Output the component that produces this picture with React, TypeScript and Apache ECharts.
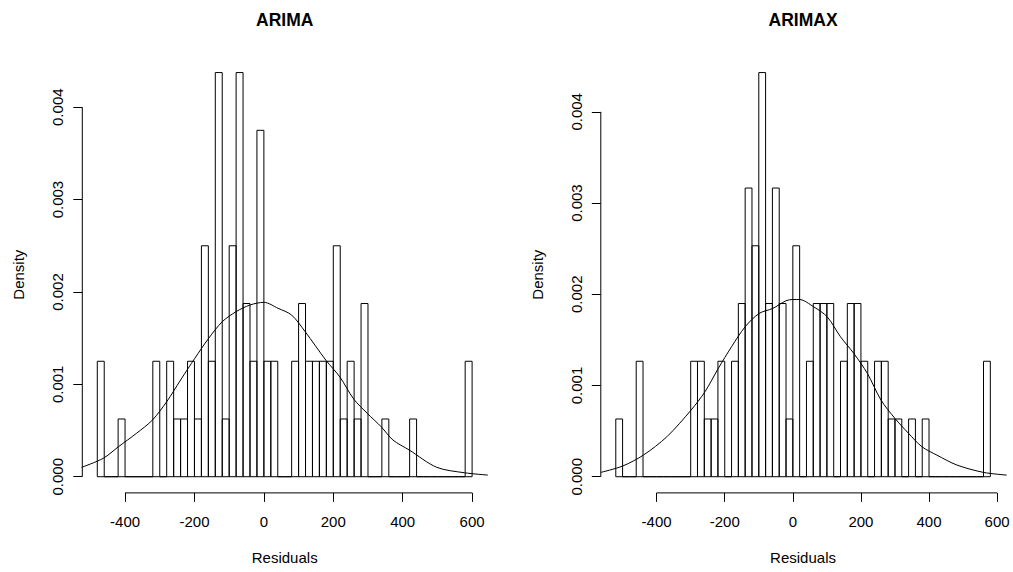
import React, { useEffect, useRef } from "react";
import * as echarts from "echarts";

const FONT = "'Liberation Sans', Arial, Helvetica, sans-serif";

// Axis tick values
const X_TICKS = [-400, -200, 0, 200, 400, 600];
const Y_TICKS = [0, 0.001, 0.002, 0.003, 0.004];

const BIN_WIDTH = 20;

// ARIMA residual histogram: counts per 20-wide bin starting at -480
const ARIMA_BIN_START = -480;
const ARIMA_COUNTS = [
  2, 0, 0, 1, 0, 0, 0, 0, 2, 0, 2, 1, 1, 2, 1, 4, 2, 7, 1, 4, 7, 3, 2, 6, 2, 2, 0,
  0, 2, 3, 2, 2, 2, 2, 4, 1, 2, 1, 3, 0, 0, 1, 0, 0, 0, 1, 0, 0, 0, 0, 0, 0, 0, 2,
];

// ARIMAX residual histogram: counts per 20-wide bin starting at -520
const ARIMAX_BIN_START = -520;
const ARIMAX_COUNTS = [
  1, 0, 0, 2, 0, 0, 0, 0, 0, 0, 0, 2, 2, 1, 1, 2, 0, 2, 3, 5, 4, 7, 3, 5, 3, 1, 4,
  0, 2, 3, 3, 3, 0, 2, 3, 3, 2, 0, 2, 2, 1, 1, 0, 1, 0, 1, 0, 0, 0, 0, 0, 0, 0, 0, 2,
];

// Density curves
const ARIMA_CURVE_X = [
  -525, -463, -419, -367, -321, -280, -240, -199, -159, -120, -80, -40, 0, 41, 80,
  119, 179, 219, 259, 298, 338, 372, 419, 498, 578, 645,
];
const ARIMA_CURVE_Y = [
  0.000102, 0.000199, 0.000325, 0.00047, 0.000614, 0.000812, 0.001047, 0.001282,
  0.001499, 0.001678, 0.001787, 0.001859, 0.001888, 0.001823, 0.00175, 0.00157,
  0.00126, 0.00108, 0.00084, 0.000686, 0.000541, 0.000397, 0.000289, 0.000102,
  0.000043, 0.000018,
];

const ARIMAX_CURVE_X = [
  -564, -500, -439, -370, -299, -258, -219, -180, -140, -99, -59, -20, 0, 19, 61,
  101, 140, 179, 219, 259, 300, 340, 379, 423, 482, 560, 628,
];
const ARIMAX_CURVE_Y = [
  0.0000475, 0.000117, 0.000237, 0.000438, 0.00073, 0.000932, 0.001187, 0.001425,
  0.001644, 0.00179, 0.001845, 0.001929, 0.001943, 0.001943, 0.001863, 0.001753,
  0.001534, 0.001352, 0.001132, 0.00084, 0.000639, 0.000475, 0.000329, 0.000237,
  0.000128, 0.0000475, 0.000018,
];

const PANELS = [
  {
    title: "ARIMA",
    binStart: ARIMA_BIN_START,
    counts: ARIMA_COUNTS,
    curveX: ARIMA_CURVE_X,
    curveY: ARIMA_CURVE_Y,
    gridLeft: 82.3,
    gridWidth: 404.8,
  },
  {
    title: "ARIMAX",
    binStart: ARIMAX_BIN_START,
    counts: ARIMAX_COUNTS,
    curveX: ARIMAX_CURVE_X,
    curveY: ARIMAX_CURVE_Y,
    gridLeft: 600.8,
    gridWidth: 404.5,
  },
];

const GRID_TOP = 56.4;
const GRID_HEIGHT = 436.5;

function buildOption() {
  const grids: any[] = [];
  const xAxes: any[] = [];
  const yAxes: any[] = [];
  const series: any[] = [];
  const titles: any[] = [];

  PANELS.forEach((p, i) => {
    const n = p.counts.reduce((a, b) => a + b, 0);
    const hist = p.counts.map((c, k) => [
      p.binStart + k * BIN_WIDTH,
      p.binStart + (k + 1) * BIN_WIDTH,
      c / (n * BIN_WIDTH),
    ]);
    const xFirst = p.binStart;
    const xLast = p.binStart + p.counts.length * BIN_WIDTH;
    const xPad = 0.04 * (xLast - xFirst);
    const xMin = xFirst - xPad;
    const xMax = xLast + xPad;
    const dMax = Math.max(...hist.map((h) => h[2]));
    const yMin = -0.04 * dMax;
    const yMax = 1.04 * dMax;

    grids.push({
      left: p.gridLeft,
      top: GRID_TOP,
      width: p.gridWidth,
      height: GRID_HEIGHT,
      containLabel: false,
    });

    titles.push({
      text: p.title,
      left: p.gridLeft + p.gridWidth / 2,
      top: 11,
      padding: 0,
      textAlign: "center",
      textStyle: {
        fontFamily: FONT,
        fontSize: 17.5,
        fontWeight: "bold",
        color: "#000",
      },
    });

    xAxes.push({
      type: "value",
      gridIndex: i,
      min: xMin,
      max: xMax,
      position: "bottom",
      splitLine: { show: false },
      axisLine: { show: false, onZero: false },
      axisTick: {
        show: true,
        customValues: X_TICKS,
        length: 9,
        lineStyle: { color: "#000", width: 1 },
      },
      axisLabel: {
        customValues: X_TICKS,
        margin: 21,
        color: "#000",
        fontSize: 15,
        fontFamily: FONT,
      },
      name: "Residuals",
      nameLocation: "middle",
      nameGap: 57,
      nameTextStyle: { color: "#000", fontSize: 15, fontFamily: FONT },
    });

    yAxes.push({
      type: "value",
      gridIndex: i,
      min: yMin,
      max: yMax,
      position: "left",
      splitLine: { show: false },
      axisLine: { show: false, onZero: false },
      axisTick: {
        show: true,
        customValues: Y_TICKS,
        length: 9,
        lineStyle: { color: "#000", width: 1 },
      },
      axisLabel: {
        customValues: Y_TICKS,
        rotate: 90,
        margin: 17,
        color: "#000",
        fontSize: 15,
        fontFamily: FONT,
        formatter: (v: number) => v.toFixed(3),
      },
      name: "Density",
      nameLocation: "middle",
      nameRotate: 90,
      nameGap: 56,
      nameTextStyle: { color: "#000", fontSize: 15, fontFamily: FONT },
    });

    series.push({
      type: "custom",
      xAxisIndex: i,
      yAxisIndex: i,
      silent: true,
      data: hist,
      encode: { x: [0, 1], y: 2 },
      renderItem: (params: any, api: any) => {
        const s = api.value(0);
        const e = api.value(1);
        const d = api.value(2);
        const p0 = api.coord([s, d]);
        const p1 = api.coord([e, 0]);
        return {
          type: "rect",
          shape: {
            x: p0[0],
            y: p0[1],
            width: p1[0] - p0[0],
            height: p1[1] - p0[1],
          },
          style: { fill: "none", stroke: "#000", lineWidth: 1 },
        };
      },
    });

    series.push({
      type: "line",
      xAxisIndex: i,
      yAxisIndex: i,
      silent: true,
      symbol: "none",
      smooth: 0.3,
      clip: true,
      data: p.curveX.map((x, k) => [x, p.curveY[k]]),
      lineStyle: { color: "#000", width: 1 },
    });

    // axis lines (R style: only spanning the tick range)
    series.push({
      type: "line",
      xAxisIndex: i,
      yAxisIndex: i,
      silent: true,
      symbol: "none",
      clip: false,
      data: [
        [X_TICKS[0], yMin],
        [X_TICKS[X_TICKS.length - 1], yMin],
      ],
      lineStyle: { color: "#000", width: 1 },
    });
    series.push({
      type: "line",
      xAxisIndex: i,
      yAxisIndex: i,
      silent: true,
      symbol: "none",
      clip: false,
      data: [
        [xMin, Y_TICKS[0]],
        [xMin, Y_TICKS[Y_TICKS.length - 1]],
      ],
      lineStyle: { color: "#000", width: 1 },
    });
  });

  return {
    animation: false,
    backgroundColor: "#fff",
    title: titles,
    grid: grids,
    xAxis: xAxes,
    yAxis: yAxes,
    series,
  };
}

export default function App() {
  const ref = useRef<HTMLDivElement>(null);
  useEffect(() => {
    if (!ref.current) return;
    const chart = echarts.init(ref.current, null, { renderer: "svg" });
    chart.setOption(buildOption());
    return () => {
      chart.dispose();
    };
  }, []);
  return (
    <div
      ref={ref}
      style={{ position: "absolute", left: 0, top: 0, width: 1013, height: 572 }}
    />
  );
}
